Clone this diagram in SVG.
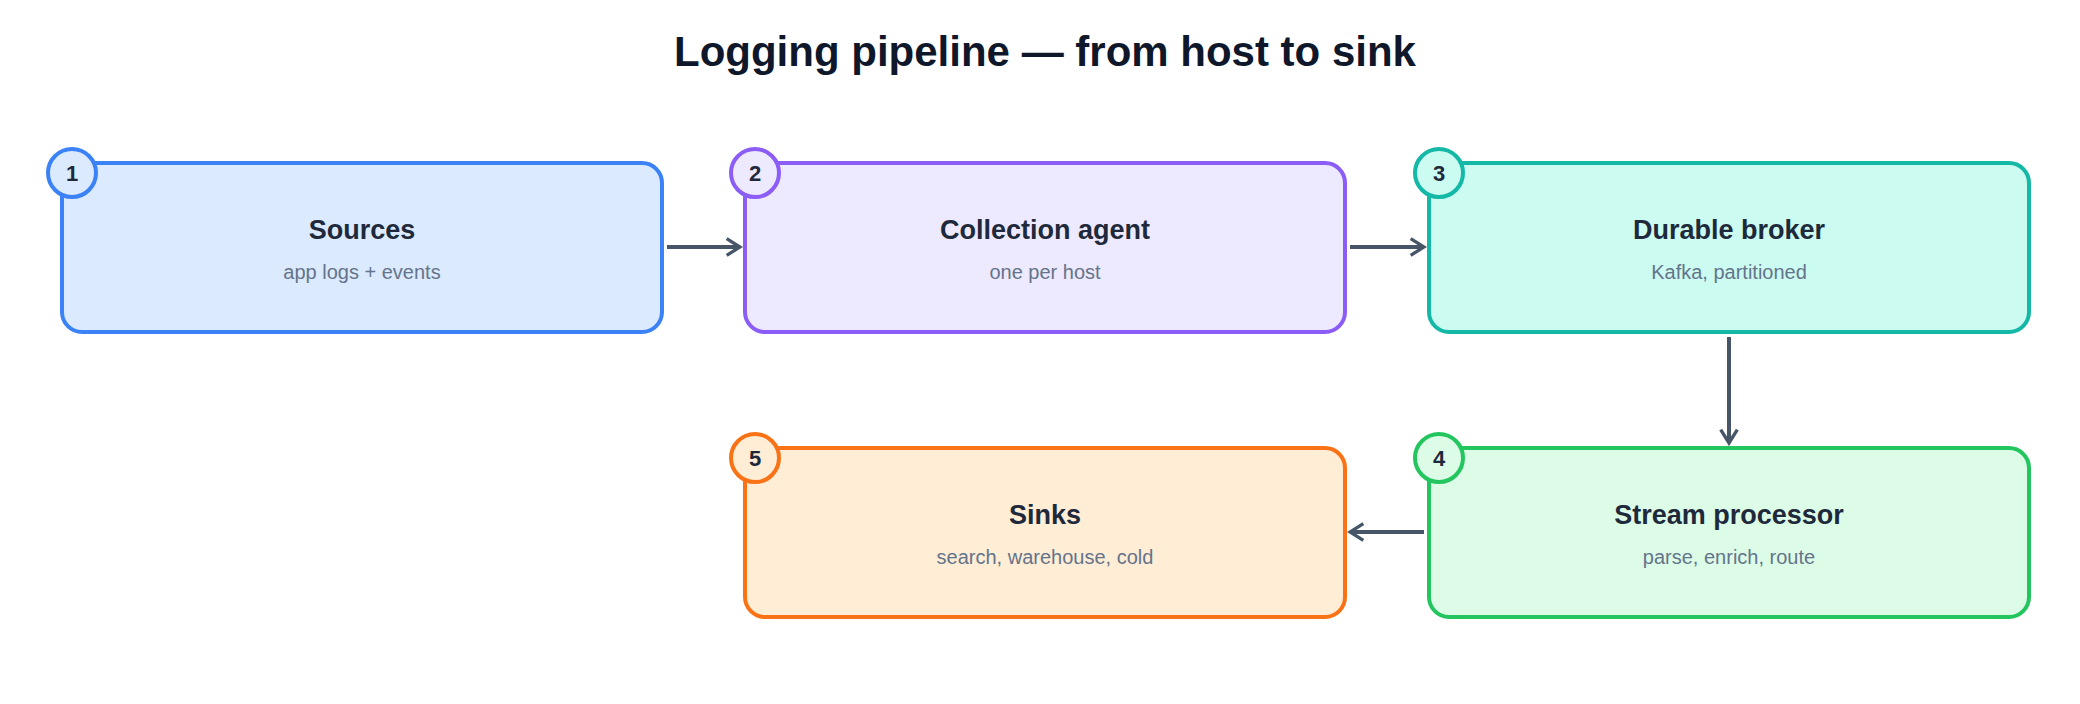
<svg xmlns="http://www.w3.org/2000/svg" width="2080" height="704" viewBox="0 0 2080 704">
<style>
text{font-family:"Liberation Sans",Arial,sans-serif;text-anchor:middle}
.t{font-size:27px;font-weight:bold;fill:#1e293b}
.s{font-size:20px;fill:#64748b}
.b{font-size:22px;font-weight:bold;fill:#1e293b}
.e{fill:none;stroke:#475569;stroke-width:4;marker-end:url(#a)}
</style>
<defs><marker id="a" viewBox="0 0 12 12" refX="10" refY="6" markerWidth="5" markerHeight="5" orient="auto" markerUnits="strokeWidth"><path d="M2 1 L10 6 L2 11" fill="none" stroke="#475569" stroke-width="2"/></marker></defs>
<rect width="2080" height="704" fill="#fff"/>
<text x="1045" y="66" style="font-size:42px;font-weight:bold;fill:#0f172a">Logging pipeline — from host to sink</text>
<g id="n1"><rect x="62" y="163" width="600" height="169" rx="20" fill="#dbeafe" stroke="#3b82f6" stroke-width="4"/><circle cx="72" cy="173" r="24" fill="#dbeafe" stroke="#3b82f6" stroke-width="4"/><text class="b" x="72" y="181">1</text><text class="t" x="362" y="239">Sources</text><text class="s" x="362" y="279">app logs + events</text></g>
<g id="n2"><rect x="745" y="163" width="600" height="169" rx="20" fill="#ede9fe" stroke="#8b5cf6" stroke-width="4"/><circle cx="755" cy="173" r="24" fill="#ede9fe" stroke="#8b5cf6" stroke-width="4"/><text class="b" x="755" y="181">2</text><text class="t" x="1045" y="239">Collection agent</text><text class="s" x="1045" y="279">one per host</text></g>
<g id="n3"><rect x="1429" y="163" width="600" height="169" rx="20" fill="#ccfbf1" stroke="#14b8a6" stroke-width="4"/><circle cx="1439" cy="173" r="24" fill="#ccfbf1" stroke="#14b8a6" stroke-width="4"/><text class="b" x="1439" y="181">3</text><text class="t" x="1729" y="239">Durable broker</text><text class="s" x="1729" y="279">Kafka, partitioned</text></g>
<g id="n4"><rect x="1429" y="448" width="600" height="169" rx="20" fill="#dcfce7" stroke="#22c55e" stroke-width="4"/><circle cx="1439" cy="458" r="24" fill="#dcfce7" stroke="#22c55e" stroke-width="4"/><text class="b" x="1439" y="466">4</text><text class="t" x="1729" y="524">Stream processor</text><text class="s" x="1729" y="564">parse, enrich, route</text></g>
<g id="n5"><rect x="745" y="448" width="600" height="169" rx="20" fill="#ffedd5" stroke="#f97316" stroke-width="4"/><circle cx="755" cy="458" r="24" fill="#ffedd5" stroke="#f97316" stroke-width="4"/><text class="b" x="755" y="466">5</text><text class="t" x="1045" y="524">Sinks</text><text class="s" x="1045" y="564">search, warehouse, cold</text></g>
<g id="edges">
<line class="e" x1="667" y1="247" x2="740" y2="247"/>
<line class="e" x1="1350" y1="247" x2="1424" y2="247"/>
<line class="e" x1="1729" y1="337" x2="1729" y2="443"/>
<line class="e" x1="1424" y1="532" x2="1350" y2="532"/>
</g>
</svg>
